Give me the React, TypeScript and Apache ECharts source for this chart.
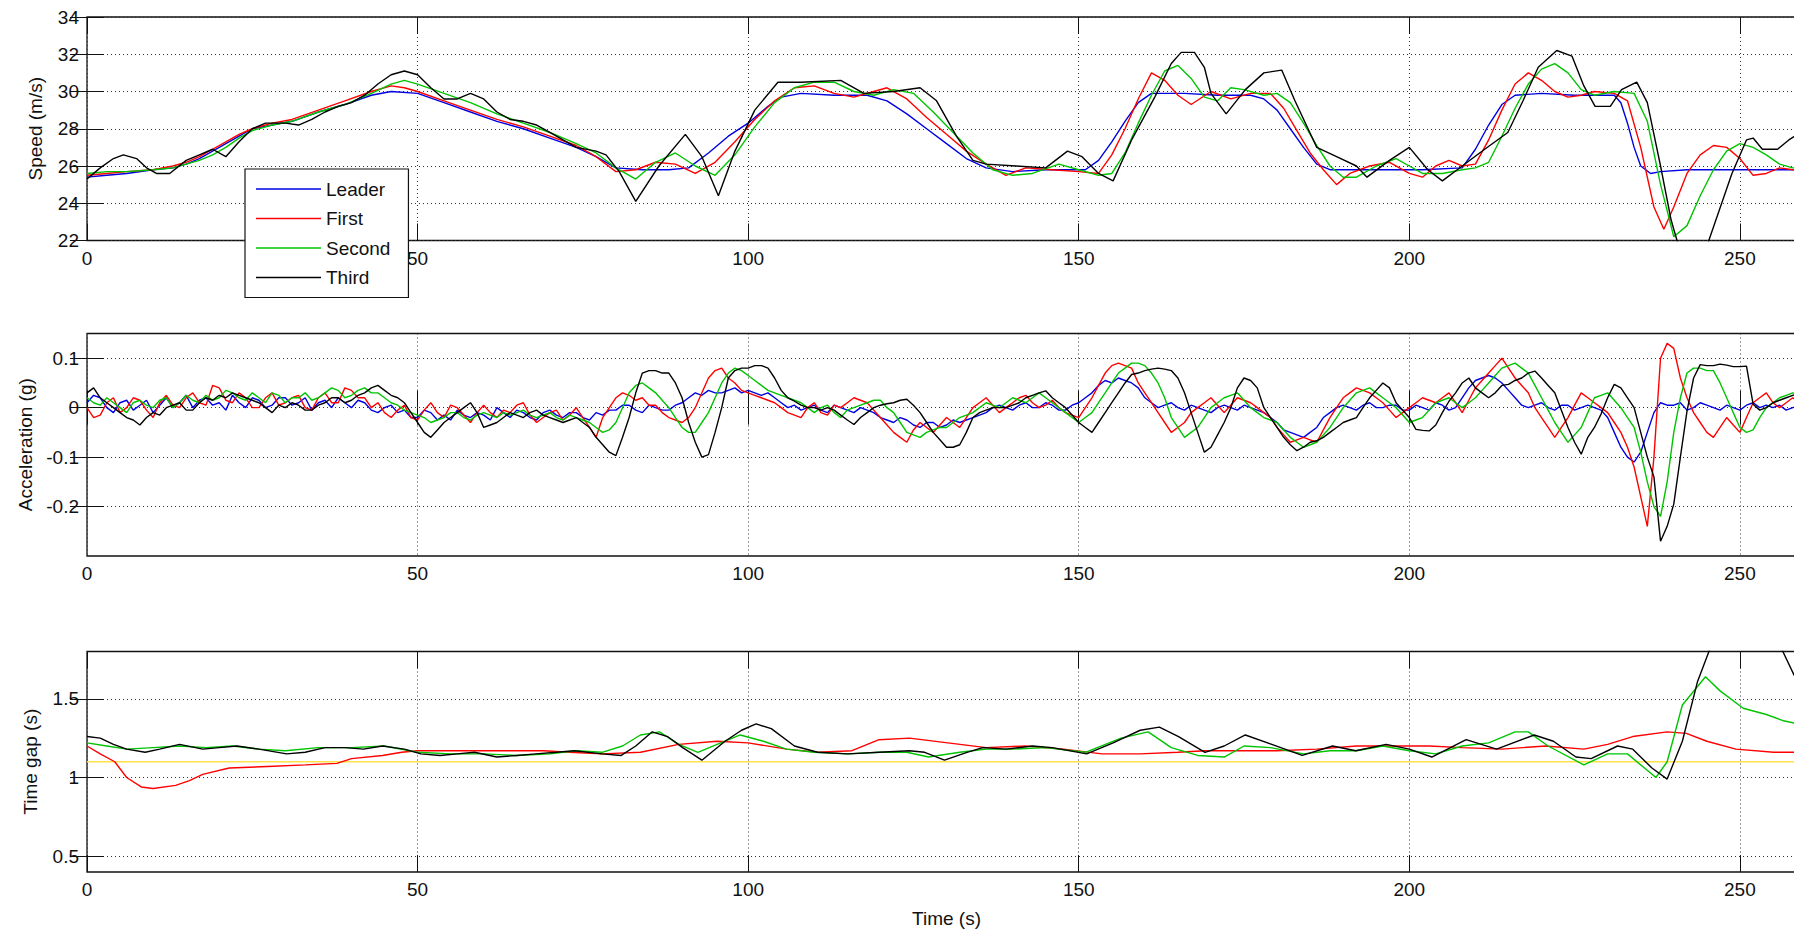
import React, { useEffect, useRef } from "react";
import * as echarts from "echarts";

// ---------- DATA ----------
const timeTicks = [0, 50, 100, 150, 200, 250];
const speedTicks = [22, 24, 26, 28, 30, 32, 34];
const accelTicks = [-0.2, -0.1, 0, 0.1];
const gapTicks = [0.5, 1, 1.5];
const vehicleNames = ["Leader", "First", "Second", "Third"];

// Speed (m/s): [time s, value]
const leaderSpeed = [[0,25.4],[3,25.5],[6,25.6],[10,25.8],[13,25.9],[15,26.1],[17,26.4],[19,26.8],[21,27.2],[23,27.6],[25,28.0],[28,28.2],[31,28.4],[35,28.9],[39,29.3],[43,29.8],[46,30.0],[50,29.9],[54,29.4],[58,28.9],[62,28.4],[66,28.0],[70,27.5],[74,27.0],[77,26.5],[80,25.9],[84,25.8],[88,25.8],[91,25.9],[94,26.7],[97,27.6],[100,28.3],[103,29.2],[105,29.7],[108,29.9],[113,29.8],[118,29.8],[121,29.5],[124,28.8],[127,28.0],[130,27.2],[133,26.4],[136,25.9],[140,25.7],[145,25.8],[151,25.8],[153,26.3],[155,27.3],[157,28.4],[159,29.4],[161,29.9],[166,29.9],[171,29.8],[176,29.8],[178,29.6],[180,29.0],[182,28.0],[184,27.0],[186,26.1],[188,25.8],[195,25.8],[202,25.8],[208,25.9],[210,26.9],[212,28.2],[214,29.3],[216,29.8],[220,29.9],[225,29.8],[231,29.8],[232,29.4],[233,28.3],[234,27.0],[235,26.0],[236.5,25.6],[238,25.7],[242,25.8],[250,25.8],[260,25.8]];
const firstSpeed = [[0,25.5],[3,25.6],[6,25.7],[10,25.8],[13,26.0],[15,26.2],[17,26.5],[19,26.9],[21,27.3],[23,27.7],[25,28.0],[28,28.3],[31,28.5],[35,29.0],[39,29.5],[43,30.0],[46,30.3],[48,30.2],[50,30.0],[54,29.5],[58,29.0],[62,28.5],[66,28.1],[70,27.6],[74,27.1],[77,26.5],[80,25.7],[83,25.8],[86,26.2],[89,26.1],[92,25.6],[95,26.2],[98,27.3],[101,28.5],[104,29.5],[107,30.2],[110,30.3],[113,29.9],[116,29.7],[119,30.0],[121,30.2],[124,29.6],[127,28.6],[130,27.7],[133,26.8],[136,26.1],[139,25.5],[142,25.9],[146,25.8],[150,25.7],[153,25.6],[155,26.6],[157,28.0],[159,29.6],[161,31.0],[163,30.6],[165,29.8],[167,29.3],[170,30.0],[173,29.6],[176,29.9],[179,29.9],[181,29.1],[183,27.9],[185,26.7],[187,25.8],[189,25.0],[191,25.6],[194,26.0],[197,26.2],[200,25.6],[202,25.4],[204,26.0],[206,26.3],[208,26.0],[210,26.1],[212,27.4],[214,29.0],[216,30.4],[218,31.0],[220,30.6],[222,30.0],[224,29.7],[226,29.8],[228,30.0],[231,29.9],[233,29.5],[235,27.0],[237,23.8],[238.5,22.6],[240,23.8],[242,25.6],[244,26.6],[246,27.1],[248,27.0],[250,26.4],[252,25.5],[254,25.6],[256,25.9],[258,25.8],[260,25.9]];
const secondSpeed = [[0,25.6],[3,25.7],[6,25.7],[10,25.8],[13,25.9],[15,26.1],[17,26.3],[19,26.6],[21,27.0],[23,27.5],[25,27.9],[28,28.2],[31,28.4],[35,28.9],[39,29.3],[43,29.9],[46,30.4],[48,30.6],[50,30.4],[54,29.9],[58,29.4],[62,28.8],[66,28.3],[70,27.8],[74,27.2],[77,26.7],[80,25.9],[83,25.3],[86,26.2],[89,26.7],[92,26.0],[95,25.5],[98,26.6],[101,28.1],[104,29.4],[107,30.2],[110,30.5],[113,30.5],[116,30.0],[119,29.8],[122,30.1],[125,29.9],[128,28.9],[131,27.8],[134,26.7],[137,25.8],[140,25.5],[143,25.6],[147,26.1],[150,25.8],[153,25.5],[155,25.6],[157,26.7],[159,28.3],[161,29.8],[163,31.1],[165,31.4],[167,30.7],[169,29.7],[171,29.5],[173,30.2],[175,30.1],[178,29.8],[180,29.9],[182,29.4],[184,28.3],[186,27.1],[188,26.0],[190,25.4],[192,25.4],[195,26.0],[198,26.4],[200,26.0],[202,25.6],[205,25.6],[208,25.8],[210,25.9],[212,26.2],[214,27.6],[216,29.1],[218,30.4],[220,31.2],[222,31.5],[224,31.0],[226,30.1],[228,29.8],[231,30.0],[234,29.9],[236,28.4],[238,25.0],[240,22.2],[242,22.8],[244,24.4],[246,25.8],[248,26.8],[250,27.2],[252,27.0],[254,26.6],[256,26.1],[258,25.9],[260,25.9]];
const thirdSpeed = [[0,25.3],[2,25.9],[4,26.4],[5.5,26.6],[7.5,26.4],[9,25.9],[10.5,25.6],[12.5,25.6],[15,26.3],[17,26.6],[19,26.9],[21,26.5],[23,27.3],[25,28.0],[27,28.3],[30,28.3],[32,28.2],[34,28.5],[36,28.9],[38,29.2],[40,29.4],[42,29.8],[44,30.4],[46,30.9],[48,31.1],[50,30.9],[52,30.2],[54,29.6],[56,29.6],[58,29.9],[60,29.6],[62,28.9],[64,28.5],[66,28.4],[68,28.2],[70,27.8],[72,27.4],[74,27.0],[77,26.8],[78.5,26.6],[80.5,25.7],[83,24.1],[86.5,26.0],[90.5,27.7],[93,26.5],[95.5,24.4],[98,26.8],[101,29.0],[104.5,30.5],[108,30.5],[114,30.6],[117.5,29.9],[122,30.0],[126,30.2],[128.5,29.5],[131.5,27.6],[134,26.3],[136,26.1],[140.5,26.0],[145,25.9],[148.3,26.8],[150.5,26.5],[153,25.6],[155.2,25.2],[158,27.4],[161.5,29.7],[164,31.5],[165.5,32.1],[167.5,32.1],[169,31.3],[170,29.9],[172.3,28.8],[175.2,30.1],[178,31.0],[180.7,31.15],[182.7,29.5],[186,27.0],[189,26.5],[192,26.0],[193.6,25.4],[197,26.3],[200,27.0],[202.8,25.8],[205,25.2],[208,26.0],[211.4,26.9],[214.9,27.8],[217.2,29.5],[219.5,31.3],[222.3,32.2],[224.6,31.9],[226.4,30.3],[228.1,29.2],[230.4,29.2],[232.1,30.1],[234.4,30.5],[236,29.4],[238,26.0],[239.6,23.1],[241.3,21.0],[243.6,20.4],[245.3,22.0],[248.8,25.6],[251,27.4],[252,27.5],[253.4,26.9],[255.7,26.9],[257.4,27.4],[260,28.0]];

// Acceleration (g): one value per second, t = 0 … 260
const leaderAccel = [
  0.01,0.025,0.02,0.0,-0.01,0.01,0.015,-0.005,0.005,0.015,
  -0.01,0.005,0.02,0.0,0.01,0.025,0.0,0.015,0.02,0.005,
  0.01,-0.005,0.025,0.01,0.0,0.02,0.015,0.0,0.005,0.02,
  0.02,0.005,0.01,0.02,-0.005,0.01,0.015,0.0,0.02,0.01,
  0.0,0.015,0.01,-0.005,-0.01,0.0,0.005,-0.01,-0.005,-0.02,
  -0.02,-0.005,-0.01,-0.025,-0.015,-0.025,-0.005,-0.015,-0.02,-0.01,
  -0.015,-0.025,0.0,-0.01,-0.02,-0.005,-0.01,-0.02,-0.025,-0.01,
  -0.005,-0.015,-0.02,-0.01,-0.01,-0.02,-0.025,-0.01,-0.015,-0.005,
  -0.005,0.005,0.005,-0.005,-0.01,0.005,0.0,-0.005,-0.005,0.005,
  0.01,0.02,0.03,0.025,0.035,0.03,0.03,0.035,0.04,0.03,
  0.035,0.03,0.025,0.03,0.02,0.01,0.0,0.005,-0.005,0.0,
  0.005,-0.005,-0.01,0.005,0.0,-0.005,-0.01,0.0,-0.005,-0.01,
  -0.02,-0.025,-0.03,-0.02,-0.025,-0.035,-0.04,-0.03,-0.03,-0.04,
  -0.035,-0.025,-0.03,-0.025,-0.02,-0.015,-0.01,0.0,0.005,0.0,
  -0.005,0.005,0.01,0.0,0.0,0.01,0.005,-0.005,-0.005,0.005,
  0.01,0.02,0.03,0.045,0.055,0.05,0.06,0.055,0.05,0.04,
  0.02,0.01,0.0,0.005,0.01,0.0,-0.005,0.005,0.0,-0.005,
  -0.01,0.0,0.005,0.0,-0.005,0.005,0.0,-0.005,-0.01,-0.02,
  -0.03,-0.045,-0.05,-0.055,-0.06,-0.05,-0.04,-0.02,-0.01,0.0,
  0.005,0.0,-0.005,0.005,0.01,0.0,0.0,0.005,0.005,-0.005,
  -0.005,0.005,0.0,-0.005,0.01,0.005,-0.005,0.0,0.02,0.04,
  0.055,0.06,0.065,0.06,0.05,0.035,0.02,0.005,0.0,0.005,
  0.01,0.0,-0.005,0.005,0.005,-0.005,0.0,0.005,0.0,-0.005,
  -0.02,-0.05,-0.08,-0.1,-0.11,-0.09,-0.05,-0.01,0.01,0.005,
  0.005,0.01,-0.005,0.0,0.01,0.005,0.0,-0.005,0.005,0.0,
  -0.005,0.005,0.01,0.0,0.005,0.0,0.005,-0.005,0.0,0.005,0.0,
];
const firstAccel = [
  0.0,-0.02,-0.015,0.01,0.02,-0.01,0.0,0.02,0.015,-0.005,
  -0.02,0.01,0.025,0.005,0.0,0.02,0.03,0.01,0.005,0.045,
  0.04,0.015,0.01,0.03,0.02,0.0,0.0,0.02,0.03,0.005,
  0.01,0.02,0.025,0.0,-0.005,0.02,0.03,0.01,0.01,0.04,
  0.035,0.02,0.02,0.0,0.01,-0.01,-0.02,-0.005,0.005,-0.02,
  -0.025,-0.005,0.01,-0.01,-0.02,0.005,0.0,-0.015,-0.03,-0.01,
  0.005,-0.01,-0.02,-0.005,-0.01,0.005,0.01,-0.015,-0.03,-0.02,
  -0.01,-0.005,-0.025,-0.015,0.0,-0.02,-0.04,-0.06,-0.02,0.0,
  0.02,0.03,0.025,0.015,0.02,0.005,0.005,-0.01,-0.02,-0.025,
  -0.03,-0.02,0.0,0.03,0.06,0.075,0.08,0.06,0.05,0.035,
  0.03,0.025,0.02,0.015,0.01,0.0,-0.01,-0.015,-0.02,0.0,
  0.01,-0.01,-0.015,0.005,0.0,0.01,0.02,0.015,0.01,-0.005,
  -0.02,-0.035,-0.05,-0.06,-0.07,-0.045,-0.03,-0.04,-0.05,-0.035,
  -0.02,-0.03,-0.04,-0.02,0.0,0.01,0.02,0.005,-0.01,0.0,
  0.01,0.02,0.025,0.01,0.0,0.005,0.015,0.0,-0.01,-0.015,
  -0.02,0.0,0.02,0.045,0.07,0.085,0.09,0.085,0.08,0.05,
  0.03,0.01,-0.01,-0.03,-0.05,-0.04,-0.03,-0.01,0.0,0.01,
  0.02,0.005,-0.01,0.005,0.02,0.015,0.01,0.0,-0.01,-0.02,
  -0.04,-0.055,-0.07,-0.065,-0.06,-0.065,-0.07,-0.045,-0.02,0.0,
  0.02,0.03,0.04,0.035,0.03,0.02,0.01,-0.005,-0.02,-0.01,
  0.0,0.01,0.02,0.015,0.01,0.02,0.03,0.01,-0.01,0.015,
  0.04,0.055,0.07,0.085,0.1,0.08,0.06,0.045,0.03,0.0,
  -0.02,-0.04,-0.06,-0.04,-0.02,0.005,0.03,0.02,0.01,0.0,
  -0.01,-0.03,-0.05,-0.08,-0.12,-0.18,-0.24,-0.1,0.1,0.13,
  0.12,0.06,0.02,-0.01,-0.03,-0.05,-0.06,-0.04,-0.02,-0.035,
  -0.05,-0.02,0.01,0.02,0.03,0.01,0.0,0.01,0.02,0.01,0.0,
];
const secondAccel = [
  0.02,0.01,0.005,0.02,0.01,0.0,-0.01,0.01,0.015,0.005,
  0.0,0.015,0.02,0.0,0.01,0.025,0.015,0.01,0.025,0.015,
  0.02,0.035,0.03,0.02,0.015,0.03,0.02,0.01,0.03,0.025,
  0.01,0.02,0.02,0.03,0.015,0.02,0.03,0.04,0.035,0.02,
  0.025,0.035,0.04,0.03,0.03,0.02,0.01,0.005,-0.005,-0.01,
  -0.015,-0.02,-0.03,-0.025,-0.02,-0.01,-0.01,-0.02,-0.025,-0.015,
  -0.01,-0.015,-0.02,-0.01,-0.015,-0.01,-0.005,-0.015,-0.02,-0.015,
  -0.01,-0.02,-0.025,-0.015,-0.02,-0.025,-0.03,-0.04,-0.05,-0.045,
  -0.03,0.0,0.03,0.045,0.05,0.04,0.03,0.015,0.0,-0.02,
  -0.04,-0.05,-0.05,-0.03,-0.01,0.02,0.05,0.07,0.08,0.075,
  0.065,0.055,0.045,0.035,0.03,0.025,0.02,0.015,0.01,0.0,
  -0.01,0.0,0.005,-0.01,-0.02,-0.005,0.0,0.005,0.01,0.015,
  0.015,0.0,-0.01,-0.03,-0.05,-0.055,-0.06,-0.05,-0.045,-0.04,
  -0.04,-0.03,-0.02,-0.015,-0.01,0.0,0.01,0.005,0.0,0.01,
  0.02,0.015,0.01,0.02,0.03,0.02,0.01,0.0,-0.01,-0.02,
  -0.03,-0.02,-0.01,0.01,0.03,0.05,0.07,0.08,0.09,0.09,
  0.085,0.07,0.05,0.02,-0.02,-0.04,-0.06,-0.05,-0.04,-0.02,
  0.0,0.01,0.02,0.025,0.03,0.015,0.0,-0.01,-0.02,-0.025,
  -0.03,-0.045,-0.06,-0.07,-0.08,-0.075,-0.07,-0.055,-0.04,-0.02,
  0.0,0.015,0.03,0.035,0.04,0.03,0.02,0.01,0.0,-0.015,
  -0.03,-0.025,-0.02,-0.005,0.01,0.015,0.02,0.01,0.0,0.01,
  0.02,0.035,0.05,0.065,0.08,0.085,0.09,0.08,0.07,0.045,
  0.02,-0.005,-0.03,-0.05,-0.07,-0.055,-0.04,-0.01,0.02,0.025,
  0.03,0.015,0.0,-0.02,-0.04,-0.09,-0.15,-0.2,-0.22,-0.15,
  -0.05,0.02,0.07,0.08,0.08,0.075,0.075,0.05,0.02,-0.01,
  -0.04,-0.05,-0.045,-0.02,0.0,0.01,0.02,0.025,0.03,0.025,0.02,
];
const thirdAccel = [
  0.03,0.04,0.02,0.01,0.0,-0.01,-0.02,-0.025,-0.035,-0.02,
  -0.01,-0.015,0.0,0.005,0.01,-0.005,-0.005,0.01,0.02,0.015,
  0.025,0.02,0.03,0.025,0.02,0.015,0.01,0.0,-0.01,0.005,
  0.0,0.01,0.005,-0.005,-0.005,0.005,0.01,0.02,0.02,0.01,
  0.015,0.025,0.03,0.04,0.045,0.035,0.025,0.02,0.01,-0.01,
  -0.03,-0.05,-0.06,-0.045,-0.03,-0.02,-0.01,0.0,0.01,-0.01,
  -0.04,-0.035,-0.03,-0.02,-0.01,-0.015,-0.02,-0.01,-0.005,-0.015,
  -0.02,-0.025,-0.03,-0.025,-0.02,-0.03,-0.04,-0.06,-0.075,-0.09,
  -0.097,-0.06,-0.02,0.03,0.07,0.075,0.075,0.07,0.07,0.05,
  0.02,-0.03,-0.07,-0.1,-0.095,-0.05,0.0,0.06,0.075,0.08,
  0.08,0.085,0.085,0.08,0.06,0.035,0.02,0.013,0.005,0.0,
  0.0,-0.005,0.0,-0.005,-0.015,-0.025,-0.034,-0.02,-0.01,0.0,
  0.005,0.008,0.01,0.015,0.017,0.005,-0.01,-0.03,-0.05,-0.065,
  -0.08,-0.08,-0.075,-0.05,-0.02,-0.01,-0.005,0.0,0.0,0.0,
  0.005,0.01,0.02,0.025,0.03,0.034,0.02,0.01,0.0,-0.015,
  -0.03,-0.04,-0.05,-0.03,-0.01,0.01,0.03,0.05,0.067,0.07,
  0.075,0.078,0.08,0.078,0.075,0.06,0.03,-0.01,-0.05,-0.09,
  -0.08,-0.055,-0.03,0.0,0.04,0.06,0.055,0.04,0.0,-0.02,
  -0.04,-0.06,-0.075,-0.087,-0.08,-0.07,-0.067,-0.06,-0.05,-0.04,
  -0.03,-0.025,-0.02,0.0,0.02,0.035,0.05,0.04,0.01,-0.005,
  -0.02,-0.044,-0.046,-0.047,-0.035,-0.01,0.013,0.03,0.05,0.06,
  0.04,0.03,0.02,0.03,0.045,0.047,0.055,0.06,0.07,0.074,
  0.06,0.045,0.03,-0.005,-0.04,-0.07,-0.094,-0.06,-0.04,-0.013,
  0.02,0.047,0.04,0.02,0.0,-0.05,-0.1,-0.14,-0.27,-0.24,
  -0.195,-0.1,-0.007,0.06,0.087,0.085,0.085,0.088,0.086,0.083,
  0.083,0.084,0.007,-0.005,0.0,0.01,0.015,0.02,0.025,0.027,0.02,
];

// Time gap (s): [time s, value]
const firstGap = [[0,1.2],[2,1.15],[4.2,1.1],[6,1.0],[8.2,0.94],[10,0.93],[13.4,0.95],[15.5,0.98],[17.5,1.02],[21.5,1.06],[27.3,1.07],[33,1.08],[37.8,1.09],[40,1.12],[44.7,1.14],[47.6,1.16],[50,1.17],[55,1.17],[60,1.17],[65,1.17],[69,1.17],[73,1.16],[77.9,1.15],[83.7,1.16],[89.5,1.21],[95.3,1.23],[100,1.22],[105.8,1.18],[110.5,1.16],[115.7,1.17],[119.8,1.24],[124.4,1.25],[130.2,1.22],[136,1.19],[141.9,1.2],[147.7,1.18],[153.5,1.15],[159.3,1.15],[165,1.16],[169.1,1.17],[175,1.17],[180,1.17],[186,1.18],[192,1.2],[198,1.2],[203,1.2],[208,1.19],[214,1.18],[220.6,1.2],[226.4,1.18],[230,1.21],[233.8,1.26],[239,1.29],[241.9,1.28],[245,1.23],[249.4,1.18],[255.1,1.16],[260,1.16]];
const secondGap = [[0,1.22],[3,1.2],[6,1.18],[10,1.19],[14,1.2],[18,1.19],[22,1.2],[26,1.18],[30,1.17],[35,1.19],[40,1.19],[45,1.2],[50,1.16],[55,1.15],[60,1.15],[65,1.14],[70,1.15],[74,1.17],[77.9,1.16],[81,1.2],[83.7,1.27],[86.6,1.29],[89.5,1.21],[92.4,1.16],[95.3,1.21],[98.8,1.27],[102.3,1.23],[105.8,1.18],[110,1.16],[115,1.15],[120,1.16],[124,1.16],[127.3,1.13],[132,1.16],[136,1.18],[140,1.18],[145,1.19],[151,1.16],[156.4,1.25],[160.5,1.29],[164,1.19],[168,1.14],[172,1.13],[175,1.2],[179,1.19],[184,1.15],[188,1.17],[192,1.17],[196,1.2],[200,1.17],[204,1.15],[208,1.2],[212,1.22],[216,1.29],[218,1.29],[221,1.2],[226.4,1.08],[230,1.15],[233,1.15],[237.3,1.0],[239,1.1],[241.3,1.46],[244.8,1.64],[247,1.55],[250.5,1.44],[254,1.4],[256.6,1.36],[260,1.33]];
const thirdGap = [[0,1.26],[2,1.25],[4,1.21],[6,1.18],[8.8,1.16],[11,1.18],[14,1.21],[17.5,1.18],[20,1.19],[22.7,1.2],[26,1.18],[30.2,1.15],[33,1.16],[36,1.19],[39,1.19],[41.8,1.18],[44.7,1.2],[46.4,1.19],[48,1.18],[50.5,1.15],[53.4,1.14],[56,1.15],[58.6,1.16],[62,1.13],[65,1.14],[67.9,1.15],[71,1.16],[73.7,1.17],[77.9,1.15],[80.8,1.14],[83,1.2],[85.5,1.29],[87.8,1.26],[90.1,1.19],[93,1.11],[96.5,1.23],[99,1.3],[101.2,1.34],[103.5,1.31],[107,1.2],[110.5,1.16],[115.1,1.15],[119.8,1.16],[124.4,1.17],[126.7,1.16],[129.7,1.11],[133.1,1.16],[135.5,1.19],[139,1.18],[143,1.2],[146,1.19],[151.2,1.15],[155.2,1.22],[159.3,1.3],[162.2,1.32],[165.1,1.26],[169.1,1.16],[172,1.2],[175.2,1.27],[179.2,1.21],[183.8,1.14],[188.4,1.2],[191.9,1.17],[196.5,1.21],[200,1.18],[203.4,1.13],[208.6,1.24],[213.2,1.18],[218.9,1.27],[221.8,1.23],[225.2,1.13],[227.5,1.12],[231.5,1.2],[233.8,1.18],[236.7,1.06],[239,0.99],[241.3,1.23],[243.6,1.61],[245.5,1.82],[248,1.98],[251,2.05],[254,1.98],[256.5,1.8],[258.2,1.65],[260,1.55]];
const gapReference = [[0,1.1],[260,1.1]];

// ---------- STYLE ----------
const FONT = '"Liberation Sans", Arial, Helvetica, sans-serif';
const COLORS = ["#0000e0", "#ff0000", "#00c400", "#000000"];
const REF_COLOR = "#ffe24a";

const perSecond = (vals: number[]) => vals.map((v, i) => [i, v]);

export default function App() {
  const ref = useRef<HTMLDivElement>(null);

  useEffect(() => {
    if (!ref.current) return;
    const chart = echarts.init(ref.current, null, { renderer: "svg" });

    const grids = [
      { left: 87, top: 17, width: 1719, height: 223.5 },
      { left: 87, top: 333.5, width: 1719, height: 222.5 },
      { left: 87, top: 651.5, width: 1719, height: 220.5 },
    ].map((g) => ({ ...g, show: true, borderColor: "#111", borderWidth: 1.3, backgroundColor: "transparent" }));

    const tick = { show: true, inside: true, length: 17, lineStyle: { color: "#111", width: 1 } };
    const dotted = { show: true, lineStyle: { color: "#333", width: 1, type: [1, 3] } };
    const labelStyle = { color: "#111", fontSize: 19, fontFamily: FONT };

    const xAxis: any[] = [];
    const yAxis: any[] = [];
    const yDefs = [
      { min: 22, max: 34, ticks: speedTicks, name: "Speed (m/s)", gap: 42 },
      { min: -0.3, max: 0.15, ticks: accelTicks, name: "Acceleration (g)", gap: 51 },
      { min: 0.4, max: 1.8, ticks: gapTicks, name: "Time gap (s)", gap: 47 },
    ];
    for (let i = 0; i < 3; i++) {
      xAxis.push({
        type: "value", gridIndex: i, position: "bottom", min: 0, max: 260,
        axisLine: { show: false },
        axisTick: { ...tick, customValues: timeTicks },
        axisLabel: { ...labelStyle, margin: 8, customValues: timeTicks },
        splitLine: dotted,
        name: i === 2 ? "Time (s)" : "",
        nameLocation: "middle", nameGap: 37,
        nameTextStyle: { ...labelStyle },
      });
      xAxis.push({
        type: "value", gridIndex: i, position: "top", min: 0, max: 260,
        axisLine: { show: false },
        axisTick: { ...tick, customValues: timeTicks },
        axisLabel: { show: false },
        splitLine: { show: false },
      });
      const d = yDefs[i];
      yAxis.push({
        type: "value", gridIndex: i, position: "left", min: d.min, max: d.max,
        axisLine: { show: false },
        axisTick: { ...tick, customValues: d.ticks },
        axisLabel: { ...labelStyle, margin: 8, customValues: d.ticks },
        splitLine: dotted,
        name: d.name, nameLocation: "middle", nameGap: d.gap,
        nameTextStyle: { ...labelStyle },
      });
      yAxis.push({
        type: "value", gridIndex: i, position: "right", min: d.min, max: d.max,
        axisLine: { show: false },
        axisTick: { ...tick, customValues: d.ticks },
        axisLabel: { show: false },
        splitLine: { show: false },
      });
    }

    const panels: any[][] = [
      [leaderSpeed, firstSpeed, secondSpeed, thirdSpeed],
      [perSecond(leaderAccel), perSecond(firstAccel), perSecond(secondAccel), perSecond(thirdAccel)],
      [null, firstGap, secondGap, thirdGap],
    ];

    const series: any[] = [];
    series.push({
      type: "line", name: "Desired gap", xAxisIndex: 4, yAxisIndex: 4, data: gapReference,
      symbol: "none", silent: true, color: REF_COLOR, lineStyle: { color: REF_COLOR, width: 1.3 }, z: 1,
    });
    panels.forEach((arrs, p) => {
      arrs.forEach((data, k) => {
        if (!data) return;
        series.push({
          type: "line", name: vehicleNames[k], xAxisIndex: 2 * p, yAxisIndex: 2 * p, data,
          symbol: "none", silent: true, color: COLORS[k],
          lineStyle: { color: COLORS[k], width: 1.4 }, z: 2 + k,
        });
      });
    });

    chart.setOption({
      animation: false,
      backgroundColor: "#fff",
      grid: grids,
      xAxis,
      yAxis,
      legend: {
        data: vehicleNames,
        orient: "vertical",
        left: 245, top: 169,
        backgroundColor: "#fff", borderColor: "#111", borderWidth: 1.2,
        padding: [10, 18, 10, 11],
        icon: "rect",
        itemWidth: 65, itemHeight: 1.3, itemGap: 9.5,
        selectedMode: false,
        textStyle: { color: "#111", fontSize: 19, fontFamily: FONT, lineHeight: 20 },
        z: 10,
      },
      series,
    });

    return () => chart.dispose();
  }, []);

  return (
    <div style={{ position: "fixed", left: 0, top: 0, width: 1794, height: 934, overflow: "hidden", background: "#fff" }}>
      <div ref={ref} style={{ width: 1840, height: 934 }} />
    </div>
  );
}
